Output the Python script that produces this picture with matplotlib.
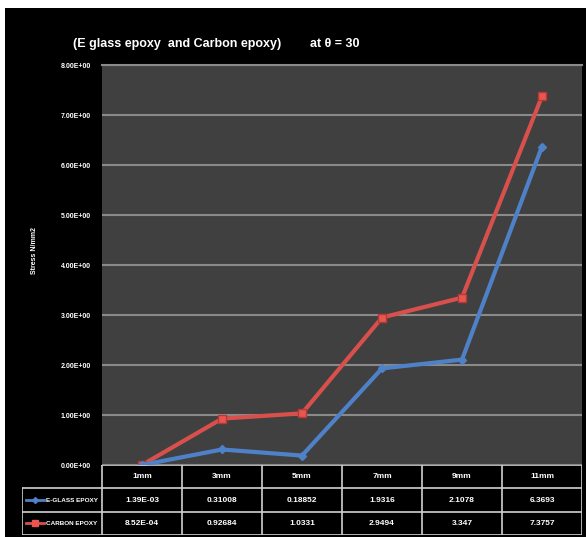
import matplotlib.pyplot as plt
from matplotlib.patches import Rectangle
from matplotlib.lines import Line2D

categories = ['1mm', '3mm', '5mm', '7mm', '9mm', '11mm']
eglass = [1.39e-3, 0.31008, 0.18852, 1.9316, 2.1078, 6.3693]
carbon = [8.52e-4, 0.92684, 1.0331, 2.9494, 3.347, 7.3757]
eglass_txt = ['1.39E-03', '0.31008', '0.18852', '1.9316', '2.1078', '6.3693']
carbon_txt = ['8.52E-04', '0.92684', '1.0331', '2.9494', '3.347', '7.3757']
series_names = ['E-GLASS EPOXY', 'CARBON EPOXY']
yticks = [0, 1, 2, 3, 4, 5, 6, 7, 8]

narrow = ['Liberation Sans Narrow', 'Liberation Sans', 'DejaVu Sans']
blue = '#4f81c8'
red = '#d8504c'

W, H = 586, 537
fig = plt.figure(figsize=(W / 100, H / 100), dpi=100, facecolor='white')
# black chart background, thin white strip at top and left
fig.add_artist(Rectangle((5 / W, 0), 1, (H - 8) / H, transform=fig.transFigure,
                         facecolor='black', edgecolor='none', zorder=0))

ax = fig.add_axes([102 / W, (H - 465) / H, 480 / W, 400 / H])
ax.set_facecolor('#404040')
x = list(range(len(categories)))
ax.plot(x, carbon, color=red, linewidth=3, marker='s', markersize=6,
        markerfacecolor='#e8564f', markeredgecolor='#b53a36', zorder=3)
ax.plot(x, eglass, color=blue, linewidth=3, marker='D', markersize=4,
        markerfacecolor=blue, markeredgecolor=blue, zorder=3)
ax.set_xlim(-0.5, len(categories) - 0.5)
ax.set_ylim(0, 8)
ax.set_yticks(yticks)
ax.set_yticklabels(['%.2fE+00' % v for v in yticks], color='white',
                   fontsize=5, family=narrow, fontweight='bold')
ax.tick_params(axis='y', length=0, pad=8)
ax.set_xticks([])
ax.grid(axis='y', color='#8a8a8a', linewidth=1.5)
ax.set_axisbelow(True)
for s in ['left', 'bottom', 'right']:
    ax.spines[s].set_visible(False)
ax.spines['top'].set_color('#8a8a8a')
ax.spines['top'].set_linewidth(1.5)

fig.text(73 / W, 1 - 44 / H, '(E glass epoxy  and Carbon epoxy)',
         color='white', fontsize=9, fontweight='bold', family=narrow,
         ha='left', va='center')
fig.text(310 / W, 1 - 44 / H, 'at \u03b8 = 30',
         color='white', fontsize=9, fontweight='bold', family=narrow,
         ha='left', va='center')
fig.text(35 / W, 1 - 250 / H, 'Stress N/mm2', color='white', fontsize=5,
         fontweight='bold', family=narrow, rotation=90, ha='center', va='center')

# data table under the chart
tx = fig.add_axes([22 / W, (H - 535) / H, 560 / W, 70 / H])
tx.set_xlim(0, 7)
tx.set_ylim(0, 3)
tx.axis('off')
lc = dict(color='#d0d0d0', linewidth=1.2)
tx.plot([1, 7], [3, 3], **lc)
tx.plot([0, 7], [2, 2], **lc)
tx.plot([0, 7], [1, 1], **lc)
tx.plot([0, 7], [0, 0], **lc)
tx.plot([0, 0], [0, 2], **lc)
for c in range(1, 8):
    tx.plot([c, c], [0, 3], **lc)
for i, cat in enumerate(categories):
    tx.text(i + 1.5, 2.5, cat, color='white', fontsize=6, family=narrow,
            fontweight='bold', ha='center', va='center')
    tx.text(i + 1.5, 1.5, eglass_txt[i], color='white', fontsize=6,
            family=narrow, fontweight='bold', ha='center', va='center')
    tx.text(i + 1.5, 0.5, carbon_txt[i], color='white', fontsize=6,
            family=narrow, fontweight='bold', ha='center', va='center')

# legend keys inside the table
tx.add_line(Line2D([0.05, 0.27], [1.5, 1.5], color=blue, linewidth=2))
tx.add_line(Line2D([0.05, 0.27], [0.5, 0.5], color=red, linewidth=2))
tx.plot([0.16], [0.5], marker='s', markersize=5, color='#e8564f')
tx.plot([0.16], [1.5], marker='D', markersize=3, color=blue)
tx.text(0.3, 1.5, series_names[0], color='white', fontsize=4.6, family=narrow,
        fontweight='bold', ha='left', va='center')
tx.text(0.3, 0.5, series_names[1], color='white', fontsize=4.6, family=narrow,
        fontweight='bold', ha='left', va='center')

fig.savefig('out.png', dpi=100, facecolor='white')
